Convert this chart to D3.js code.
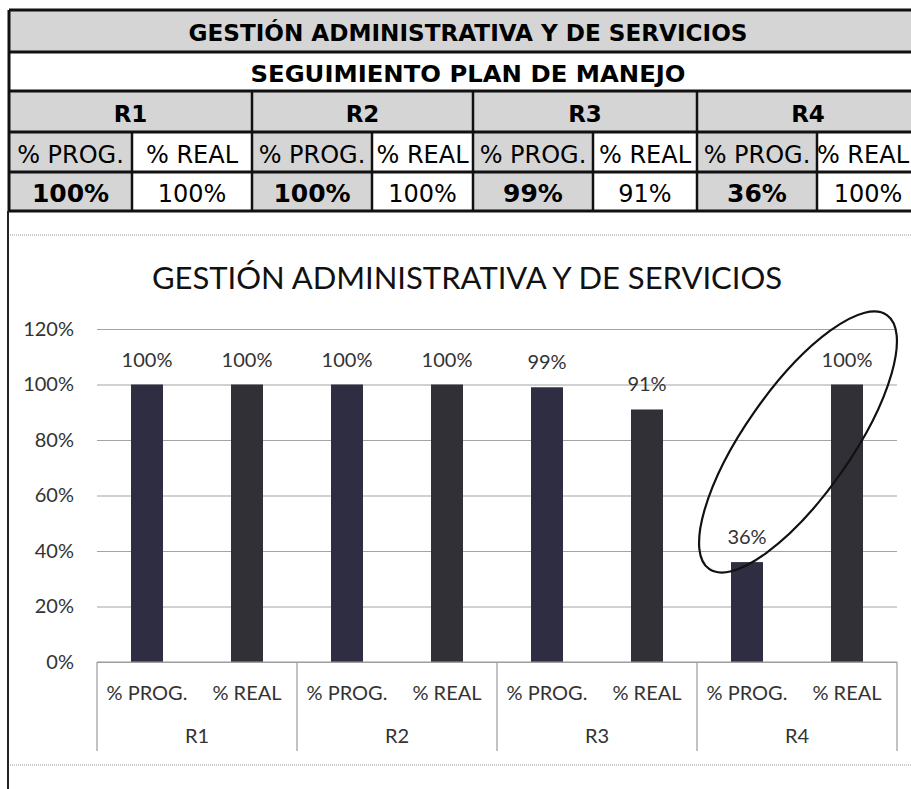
<!DOCTYPE html>
<html>
<head>
<meta charset="utf-8">
<script src="https://cdn.jsdelivr.net/npm/d3@7"></script>
<style>
  body { margin: 0; background: #fff; }
  svg { display: block; }
</style>
</head>
<body>
<svg id="vis" width="911" height="789"></svg>
<script>
// data
let tableTitle = "GESTIÓN ADMINISTRATIVA Y DE SERVICIOS";
let tableSubtitle = "SEGUIMIENTO PLAN DE MANEJO";
let chartTitle = "GESTIÓN ADMINISTRATIVA Y DE SERVICIOS";
let groups = ["R1", "R2", "R3", "R4"];
let series = ["% PROG.", "% REAL"];
let progValues = [1.00, 1.00, 0.99, 0.36];
let realValues = [1.00, 1.00, 0.91, 1.00];
let yTicks = [0, 0.2, 0.4, 0.6, 0.8, 1.0, 1.2];

let rows = [];
groups.forEach((g, i) => {
    rows.push({ group: g, serie: series[0], value: progValues[i] });
    rows.push({ group: g, serie: series[1], value: realValues[i] });
});

let svg = d3.select("#vis");
let fmt = d3.format(".0%");

// ---------- table on top ----------
let tbl = svg.append("g");
let colEdges = [9, 132, 252, 372, 473, 593, 697, 817, 919];
let rowEdges = [10, 52, 91, 132, 172, 211];
let gray = "#d5d5d5";

// row 1 and row 3 backgrounds
tbl.append("rect").attr("x", 9).attr("y", rowEdges[0]).attr("width", 910).attr("height", rowEdges[1] - rowEdges[0]).attr("fill", gray);
tbl.append("rect").attr("x", 9).attr("y", rowEdges[2]).attr("width", 910).attr("height", rowEdges[3] - rowEdges[2]).attr("fill", gray);
// prog cells are gray in rows 4-5
groups.forEach((g, i) => {
    tbl.append("rect")
        .attr("x", colEdges[i * 2]).attr("y", rowEdges[3])
        .attr("width", colEdges[i * 2 + 1] - colEdges[i * 2])
        .attr("height", rowEdges[5] - rowEdges[3])
        .attr("fill", gray);
});

tbl.append("text")
    .attr("x", 468).attr("y", 41)
    .attr("text-anchor", "middle")
    .attr("font-family", "DejaVu Sans").attr("font-weight", "bold").attr("font-size", 23)
    .attr("textLength", 559).attr("lengthAdjust", "spacingAndGlyphs")
    .text(tableTitle);
tbl.append("text")
    .attr("x", 468).attr("y", 82)
    .attr("text-anchor", "middle")
    .attr("font-family", "DejaVu Sans").attr("font-weight", "bold").attr("font-size", 23)
    .attr("textLength", 435).attr("lengthAdjust", "spacingAndGlyphs")
    .text(tableSubtitle);

groups.forEach((g, i) => {
    let x0 = colEdges[i * 2], xm = colEdges[i * 2 + 1], x1 = Math.min(colEdges[i * 2 + 2], 911);
    tbl.append("text")
        .attr("x", (x0 + colEdges[i * 2 + 2]) / 2).attr("y", 122)
        .attr("text-anchor", "middle")
        .attr("font-family", "DejaVu Sans").attr("font-weight", "bold").attr("font-size", 23)
        .text(g);
    tbl.append("text")
        .attr("x", (x0 + xm) / 2).attr("y", 163)
        .attr("text-anchor", "middle")
        .attr("font-family", "DejaVu Sans").attr("font-size", 24)
        .text(series[0]);
    // last cell runs off the page, keep its text inside
    tbl.append("text")
        .attr("x", x1 < colEdges[i * 2 + 2] ? x1 - 2 : (xm + x1) / 2).attr("y", 163)
        .attr("text-anchor", x1 < colEdges[i * 2 + 2] ? "end" : "middle")
        .attr("font-family", "DejaVu Sans").attr("font-size", 24)
        .text(series[1]);
    tbl.append("text")
        .attr("x", (x0 + xm) / 2).attr("y", 202)
        .attr("text-anchor", "middle")
        .attr("font-family", "DejaVu Sans").attr("font-weight", "bold").attr("font-size", 25)
        .text(fmt(progValues[i]));
    tbl.append("text")
        .attr("x", (xm + colEdges[i * 2 + 2]) / 2).attr("y", 202)
        .attr("text-anchor", "middle")
        .attr("font-family", "DejaVu Sans").attr("font-size", 24)
        .text(fmt(realValues[i]));
});

// table borders
rowEdges.forEach(y => {
    tbl.append("line").attr("x1", 9).attr("x2", 911).attr("y1", y).attr("y2", y)
        .attr("stroke", "#111").attr("stroke-width", 3);
});
colEdges.forEach((x, i) => {
    let top = (i % 2 == 0) ? rowEdges[2] : rowEdges[3];
    if (i == 0) top = rowEdges[0];
    tbl.append("line").attr("x1", x).attr("x2", x).attr("y1", top).attr("y2", rowEdges[5])
        .attr("stroke", "#111").attr("stroke-width", i == 0 ? 3 : 2.5);
});

// outer frame of the chart block
svg.append("line").attr("x1", 8).attr("x2", 8).attr("y1", 211).attr("y2", 789)
    .attr("stroke", "#222").attr("stroke-width", 2);
[235, 765].forEach(y => {
    svg.append("line").attr("x1", 10).attr("x2", 911).attr("y1", y).attr("y2", y)
        .attr("stroke", "#9a9a9a").attr("stroke-width", 1.2).attr("stroke-dasharray", "1,1");
});

// ---------- chart ----------
let margin = { left: 97, top: 329 };
let width = 800, height = 333;
let g = svg.append("g").attr("transform", `translate(${margin.left}, ${margin.top})`);

let x0 = d3.scaleBand().domain(groups).range([0, width]);
let x1 = d3.scaleBand().domain(series).range([0, x0.bandwidth()]);
let y = d3.scaleLinear().domain([0, 1.2]).range([height, 0]);

svg.append("text")
    .attr("x", 467).attr("y", 289)
    .attr("text-anchor", "middle")
    .attr("font-family", "Lato").attr("font-size", 31)
    .attr("fill", "#111")
    .text(chartTitle);

let yAxis = g.append("g")
    .call(d3.axisLeft(y).tickValues(yTicks).tickFormat(fmt).tickSize(-width).tickPadding(23));
yAxis.select(".domain").remove();
yAxis.selectAll(".tick line").attr("stroke", "#a3a3a3").attr("stroke-width", 1.2);
yAxis.selectAll(".tick text")
    .attr("font-family", "Lato").attr("font-size", 20).attr("fill", "#333");

// bars
let barW = x1.bandwidth() * 0.32;
g.selectAll(".bar")
    .data(rows)
    .enter().append("rect")
    .attr("class", "bar")
    .attr("x", d => x0(d.group) + x1(d.serie) + (x1.bandwidth() - barW) / 2)
    .attr("y", d => y(d.value))
    .attr("width", barW)
    .attr("height", d => height - y(d.value))
    .attr("fill", (d, i) => i % 2 == 0 ? "#2e2d42" : "#303036");

// data labels
g.selectAll(".lbl")
    .data(rows)
    .enter().append("text")
    .attr("class", "lbl")
    .attr("x", d => x0(d.group) + x1(d.serie) + x1.bandwidth() / 2)
    .attr("y", d => y(d.value) - 18)
    .attr("text-anchor", "middle")
    .attr("font-family", "Lato").attr("font-size", 20).attr("fill", "#333")
    .text(d => fmt(d.value));

// category axis (two levels)
let cat = g.append("g").attr("transform", `translate(0, ${height})`);
cat.append("line").attr("x1", 0).attr("x2", width).attr("y1", 0).attr("y2", 0)
    .attr("stroke", "#9a9a9a").attr("stroke-width", 1.2);
let edges = groups.map(d => x0(d)).concat([width]);
cat.selectAll(".sep")
    .data(edges)
    .enter().append("line")
    .attr("class", "sep")
    .attr("x1", d => d).attr("x2", d => d)
    .attr("y1", 0).attr("y2", 89)
    .attr("stroke", "#9a9a9a").attr("stroke-width", 1.2);
cat.selectAll(".sub")
    .data(rows)
    .enter().append("text")
    .attr("class", "sub")
    .attr("x", d => x0(d.group) + x1(d.serie) + x1.bandwidth() / 2)
    .attr("y", 38)
    .attr("text-anchor", "middle")
    .attr("font-family", "Lato").attr("font-size", 20).attr("fill", "#333")
    .text(d => d.serie);
cat.selectAll(".grp")
    .data(groups)
    .enter().append("text")
    .attr("class", "grp")
    .attr("x", d => x0(d) + x0.bandwidth() / 2)
    .attr("y", 81)
    .attr("text-anchor", "middle")
    .attr("font-family", "Lato").attr("font-size", 20).attr("fill", "#333")
    .text(d => d);

// hand drawn ring around R4
let cx = x0("R4") + x0.bandwidth() / 2;
let cy = y(0.8);
g.append("ellipse")
    .attr("cx", 0).attr("cy", 0).attr("rx", 155).attr("ry", 53)
    .attr("transform", `translate(${cx + 1}, ${cy + 2}) rotate(-55)`)
    .attr("fill", "none").attr("stroke", "#111").attr("stroke-width", 2.2);
</script>
</body>
</html>
